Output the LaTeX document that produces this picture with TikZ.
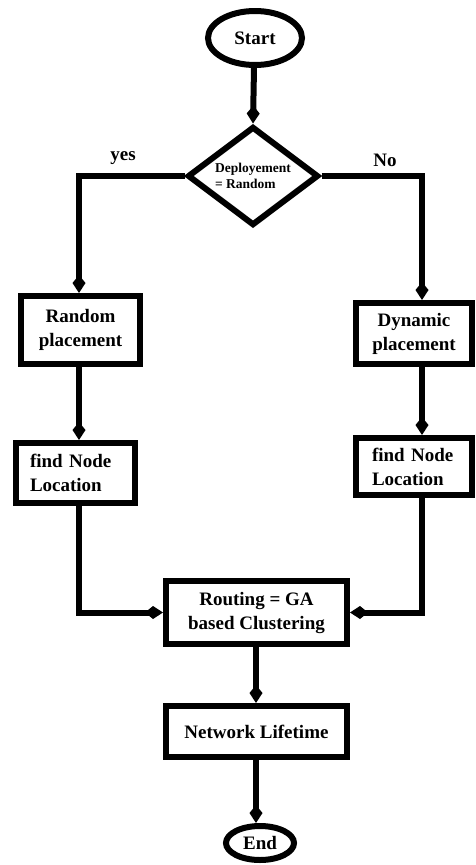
\documentclass[tikz,border=0pt]{standalone}
\usepackage{fontspec}
\setmainfont{Liberation Serif}
\usetikzlibrary{shapes.geometric,arrows.meta}
\begin{document}
\begin{tikzpicture}[x=1pt,y=-1pt,
  every node/.style={font=\fontsize{19}{24}\selectfont\bfseries},
  stepbox/.style={draw,line width=6pt,inner sep=0pt,align=center},
  term/.style={draw,ellipse,line width=6pt,inner sep=0pt},
  arr/.style={line width=6pt,-{Kite[length=18pt,width=13pt,inset=8pt]}},
  lbl/.style={font=\fontsize{19}{22}\selectfont\bfseries}]
\useasboundingbox (0,0) rectangle (475,865);
\fill[white] (0,0) rectangle (475,865);
\coordinate (cl) at (79,0);
\coordinate (cr) at (422,0);
\coordinate (cm) at (256,0);
\node[term,minimum width=94pt,minimum height=54pt] (start) at (255,38) {Start};
\node[draw,diamond,line width=6pt,inner sep=0pt,shape aspect=1.3,minimum width=131pt,minimum height=99pt,align=left,font=\fontsize{13.5}{16}\selectfont\bfseries] (dec) at (253,176) {Deployement\\= Random};
\node[stepbox,minimum width=119pt,minimum height=68pt] (rand) at (80.5,330) {Random\\placement};
\node[stepbox,minimum width=116pt,minimum height=61pt] (dyn) at (414,333.5) {Dynamic\\placement};
\node[stepbox,minimum width=119pt,minimum height=60pt,text width=91pt,align=left] (f1) at (75.5,473) {find Node\\Location};
\node[stepbox,minimum width=116pt,minimum height=57pt,text width=84pt,align=left] (f2) at (414,466.5) {find Node\\Location};
\node[stepbox,minimum width=181pt,minimum height=63pt] (route) at (256.5,612.5) {Routing = GA\\based Clustering};
\node[stepbox,minimum width=181pt,minimum height=51pt] (net) at (256.5,731.5) {Network Lifetime};
\node[term,minimum width=68pt,minimum height=34pt] (end) at (260,843) {End};
\draw[arr] (start.south -| 254,0) -- (dec.north);
\draw[arr] (dec.west) -| (rand.north -| cl);
\draw[arr] (dec.east) -| (dyn.north -| cr);
\draw[arr] (rand.south -| cl) -- (f1.north -| cl);
\draw[arr] (dyn.south -| cr) -- (f2.north -| cr);
\draw[arr] (f1.south -| cl) |- (route.west);
\draw[arr] (f2.south -| cr) |- (route.east);
\draw[arr] (route.south -| cm) -- (net.north -| cm);
\draw[arr] (net.south -| cm) -- (end.north -| cm);
\node[lbl] (yes) at (123,158) {yes};
\node[lbl] (no) at (385,160) {No};
\end{tikzpicture}
\end{document}
